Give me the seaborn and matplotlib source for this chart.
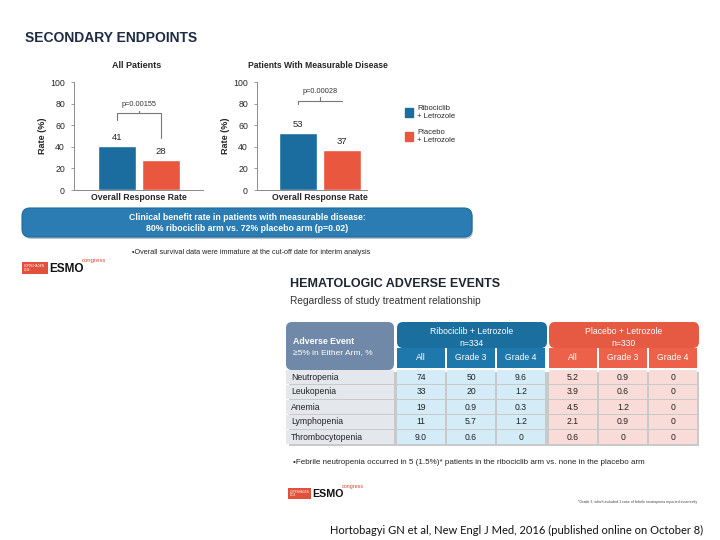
import numpy as np
import pandas as pd
import seaborn as sns
import matplotlib.pyplot as plt
from matplotlib.patches import Rectangle, FancyBboxPatch, Patch

# data
arms = ["Ribociclib + Letrozole", "Placebo + Letrozole"]
legend_labels = ["Ribociclib\n+ Letrozole", "Placebo\n+ Letrozole"]
endpoint = "Overall Response Rate"
orr_all = [41, 28]
orr_measurable = [53, 37]
p_values = ["p=0.00155", "p=0.00028"]
yticks = [0, 20, 40, 60, 80, 100]

ae_names = ["Neutropenia", "Leukopenia", "Anemia", "Lymphopenia", "Thrombocytopenia"]
ribo_all = ["74", "33", "19", "11", "9.0"]
ribo_g3 = ["50", "20", "0.9", "5.7", "0.6"]
ribo_g4 = ["9.6", "1.2", "0.3", "1.2", "0"]
plac_all = ["5.2", "3.9", "4.5", "2.1", "0.6"]
plac_g3 = ["0.9", "0.6", "1.2", "0.9", "0"]
plac_g4 = ["0", "0", "0", "0", "0"]
grade_cols = ["All", "Grade 3", "Grade 4"]

BLUE = "#1a6d9e"
ORANGE = "#e9573f"
SANS = ["Liberation Sans", "DejaVu Sans"]

sns.set_theme(style="white")
plt.rcParams["font.family"] = SANS

W, H = 720, 540
fig = plt.figure(figsize=(7.2, 5.4), dpi=100)

# background axes in pixel coords for slide text / shapes
bg = fig.add_axes([0, 0, 1, 1])
bg.set_xlim(0, W)
bg.set_ylim(H, 0)
bg.axis("off")


def px_axes(x0, y0, x1, y1):
    return fig.add_axes([x0 / W, 1 - y1 / H, (x1 - x0) / W, (y1 - y0) / H])


bg.text(25, 38, "SECONDARY ENDPOINTS", fontsize=10, fontweight="bold",
        color="#1d2b45", va="center")
bg.text(137, 66, "All Patients", fontsize=6.5, fontweight="bold", ha="center", va="center")
bg.text(318, 66, "Patients With Measurable Disease", fontsize=6.2, fontweight="bold",
        ha="center", va="center")


def orr_chart(ax, vals, pval, xlim, bracket):
    df = pd.DataFrame({"endpoint": [endpoint] * 2, "arm": arms, "rate": vals})
    sns.barplot(data=df, x="endpoint", y="rate", hue="arm", palette=[BLUE, ORANGE],
                width=0.67, gap=0.12, saturation=1, legend=False, ax=ax)
    ax.set_xlim(*xlim)
    ax.set_ylim(0, 100)
    ax.set_yticks(yticks)
    ax.set_xlabel("")
    ax.set_ylabel("Rate (%)", fontsize=6.5, fontweight="bold", labelpad=2)
    for s in ["top", "right"]:
        ax.spines[s].set_visible(False)
    for s in ["left", "bottom"]:
        ax.spines[s].set_color("#8a8a8a")
        ax.spines[s].set_linewidth(0.7)
    ax.tick_params(axis="y", left=True, length=2.5, width=0.6, color="#8a8a8a",
                   labelsize=6.3, pad=4)
    ax.tick_params(axis="x", bottom=False, length=0, labelsize=6.3, pad=2.5)
    for lab in ax.get_xticklabels():
        lab.set_fontweight("bold")
    for c in ax.containers:
        ax.bar_label(c, padding=3, fontsize=6.8)
    bars = [c[0] for c in ax.containers]
    cx = [b.get_x() + b.get_width() / 2 for b in bars]
    mid = (cx[0] + cx[1]) / 2
    l0, top, r0, tick, ty = bracket
    ax.plot([cx[0], cx[0], cx[1], cx[1]], [l0, top, top, r0], color="#777", lw=0.8)
    ax.plot([mid, mid], [top, tick], color="#777", lw=0.8)
    ax.text(mid, ty, pval, ha="center", va="bottom", fontsize=5.3, color="#333")


ax1 = px_axes(74, 82, 203, 190)
orr_chart(ax1, orr_all, p_values[0], (-0.504, 0.496), (65, 71, 48, 73, 76))
ax2 = px_axes(257, 82, 367, 190)
orr_chart(ax2, orr_measurable, p_values[1], (-0.488, 0.364), (80, 82, 82, 86, 88))

handles = [Patch(color=BLUE), Patch(color=ORANGE)]
fig.legend(handles, legend_labels, loc="upper left", bbox_to_anchor=(398 / W, 1 - 98 / H),
           frameon=False, handlelength=1.1, handleheight=1.4, handletextpad=0.5,
           labelspacing=1.2, prop={"size": 5.5})

# banner
bg.add_patch(FancyBboxPatch((23, 210), 450, 29, boxstyle="round,pad=0,rounding_size=8",
                            fc="#b9c6d2", ec="none", zorder=1))
bg.add_patch(FancyBboxPatch((22, 208), 450, 29, boxstyle="round,pad=0,rounding_size=8",
                            fc="#2a7cb2", ec="#1f6a9b", lw=0.8, zorder=2))
bg.text(247, 218, "Clinical benefit rate in patients with measurable disease:",
        fontsize=6.3, fontweight="bold", color="white", ha="center", va="center", zorder=3)
bg.text(247, 228.5, "80% ribociclib arm vs. 72% placebo arm (p=0.02)",
        fontsize=6.3, fontweight="bold", color="white", ha="center", va="center", zorder=3)
bg.text(251, 252, "\u2022Overall survival data were immature at the cut-off date for interim analysis",
        fontsize=5.2, color="#222", ha="center", va="center")


def esmo_logo(x, y, s):
    bg.add_patch(Rectangle((x, y), 26 * s, 12 * s, fc="#e0503c", ec="none"))
    bg.text(x + 2 * s, y + 6 * s, "COPENHAGEN\n2016", fontsize=2.2 * s, color="white",
            va="center", linespacing=0.9)
    bg.text(x + 27 * s, y + 6.5 * s, "ESMO", fontsize=8.5 * s, fontweight="bold",
            color="#111", va="center")
    bg.text(x + 60 * s, y - 1.5 * s, "congress", fontsize=4.3 * s,
            color="#d9452f", va="center")


esmo_logo(22, 262, 1.0)
esmo_logo(288, 488, 0.9)

bg.text(290, 284, "HEMATOLOGIC ADVERSE EVENTS", fontsize=9, fontweight="bold",
        color="#1e2430", va="center")
bg.text(290, 301, "Regardless of study treatment relationship", fontsize=7.3,
        color="#333", va="center")

# table
tx = px_axes(286, 322, 699, 446)
tx.set_xlim(0, 8.26)
tx.set_ylim(124, 0)
tx.axis("off")
rnd = dict(boxstyle="round,pad=0,rounding_size=0.12", mutation_aspect=50)
tx.add_patch(Rectangle((0.06, 50), 8.2, 74, fc="#c9c9c9", ec="none", zorder=0))
tx.add_patch(FancyBboxPatch((0, 0), 2.16, 48, fc="#7189a8", ec="none", **rnd))
tx.text(0.14, 19, "Adverse Event", color="white", fontsize=6.3, fontweight="bold", va="center")
tx.text(0.14, 31, "\u22655% in Either Arm, %", color="white", fontsize=6, va="center")
groups = [("Ribociclib + Letrozole", "n=334", 2.22, "#1b6f9f", "#1f78ab", "#d3ecf8",
           [ribo_all, ribo_g3, ribo_g4]),
          ("Placebo + Letrozole", "n=330", 5.26, "#e65a43", "#ed6049", "#f9dbd7",
           [plac_all, plac_g3, plac_g4])]
for name, n, x0, c_head, c_sub, c_cell, cols in groups:
    tx.add_patch(FancyBboxPatch((x0, 0), 3.0, 26, fc=c_head, ec="none", zorder=1, **rnd))
    tx.text(x0 + 1.5, 10, name, color="white", fontsize=6.2, ha="center", va="center", zorder=1)
    tx.text(x0 + 1.5, 22, n, color="white", fontsize=6.2, ha="center", va="center", zorder=1)
    for j, lab in enumerate(grade_cols):
        tx.add_patch(Rectangle((x0 + j, 26), 0.96, 19.5, fc=c_sub, ec="none", zorder=2))
        tx.text(x0 + j + 0.48, 36, lab, color="white", fontsize=6.2,
                ha="center", va="center", zorder=3)
        for i, v in enumerate(cols[j]):
            tx.add_patch(Rectangle((x0 + j, 48 + i * 15), 0.96, 13.5, fc=c_cell, ec="none", zorder=2))
            tx.text(x0 + j + 0.48, 55 + i * 15, v, fontsize=6.2, color="#222",
                    ha="center", va="center", zorder=3)
for i, name in enumerate(ae_names):
    tx.add_patch(Rectangle((0, 48 + i * 15), 2.16, 13.5, fc="#e4e7ec", ec="none", zorder=2))
    tx.text(0.1, 55 + i * 15, name, fontsize=6.2, color="#222", va="center", zorder=3)

bg.text(293, 463, "\u2022Febrile neutropenia occurred in 5 (1.5%)* patients in the ribociclib arm "
        "vs. none in the placebo arm", fontsize=5.8, color="#222", va="center")
bg.text(697, 502, "*Grade 3, which included 1 case of febrile neutropenia reported incorrectly",
        fontsize=2.6, color="#444", ha="right", va="center")
bg.text(517, 530, "Hortobagyi GN et al, New Engl J Med, 2016 (published online on October 8)",
        family=["Lato", "DejaVu Sans"], fontsize=8, color="#111", ha="center", va="center")

fig.savefig("out.png", dpi=100)
